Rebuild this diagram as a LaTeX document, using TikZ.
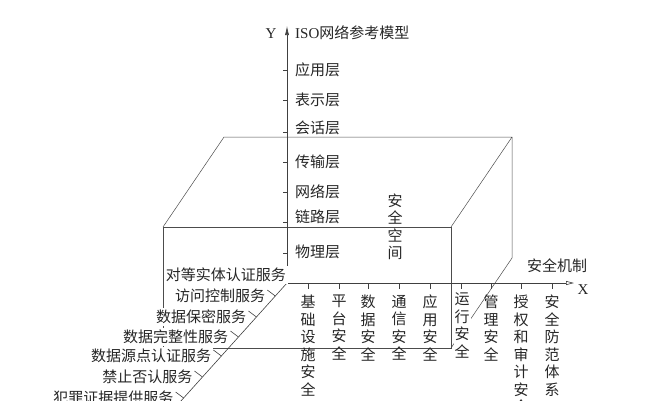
\documentclass[tikz,border=0pt]{standalone}
\usepackage{fontspec}
\setmainfont{Liberation Serif}
\newfontfamily\cjk{Noto Sans CJK SC}
\usetikzlibrary{arrows.meta,calc}
\tikzset{
  axisline/.style={draw=black!75, line width=0.6pt},
  edgeline/.style={draw=black!70, line width=0.5pt},
  txt/.style={text=black!85, inner sep=1pt, font=\cjk\fontsize{15}{17.5}\selectfont},
  ylabel/.style={txt, anchor=west},
  zlabel/.style={txt, anchor=east, fill=white, inner sep=2pt},
  xlabel/.style={txt, anchor=north, align=center},
}
\begin{document}
\begin{tikzpicture}[x=1pt,y=-1pt]
\useasboundingbox (0,0) rectangle (645,400);
% box (security space)
\coordinate (F1) at (163,227);
\coordinate (F2) at (451,227);
\coordinate (F3) at (451,348);
\coordinate (F4) at (163,348);
\coordinate (B1) at (224,137);
\coordinate (B2) at (512,137);
\coordinate (B3) at (512,258);
\draw[edgeline] (F1) -- (F2) -- (F3) -- (F4) -- cycle;
\draw[edgeline] (F1) -- (B1) -- (B2) -- (F2);
\draw[edgeline] (B2) -- (B3) -- (F3);
% axes
\coordinate (O) at (287,283);
\coordinate (Ytop) at (287,26);
\coordinate (Xend) at (574,283);
\coordinate (Zend) at (180,402);
\draw[axisline,-{Latex[length=9pt,width=4pt]}] (O) -- (Ytop);
\draw[axisline,-{Triangle[open,length=8pt,width=4pt]}] (O) -- (Xend);
\draw[axisline] (O) -- (Zend);
\node[txt, font=\fontsize{15}{15}\selectfont] (ynm) at (271,34) {Y};
\node[txt, font=\fontsize{15}{15}\selectfont] (xnm) at (583,290) {X};
\node[ylabel] (ytitle) at (294,33) {\fontsize{15}{15}\selectfont\rmfamily ISO\cjk 网络参考模型};
\node[txt] (xtitle) at (557,266) {安全机制};
% Y axis: ISO layers
\foreach \y/\t in {70/应用层,100/表示层,128/会话层,162/传输层,192/网络层,217/链路层,252/物理层}{
  \node[ylabel] (y\y) at (294,\y) {\t};
}
\foreach \y in {70,100,132,162,192,222,253}
  \draw[axisline] (283,\y) -- (287,\y);
\node[txt, align=center] (space) at (395,227) {安\\全\\空\\间};
% X axis: security mechanisms
\foreach \x in {308,339,368,399,430,461,491,521,552}
  \draw[axisline] (\x,283) -- (\x,289);
\foreach \x/\t in {308/{基\\础\\设\\施\\安\\全},339/{平\\台\\安\\全},368/{数\\据\\安\\全},
  399/{通\\信\\安\\全},430/{应\\用\\安\\全},491/{管\\理\\安\\全},
  521/{授\\权\\和\\审\\计\\安\\全},552/{安\\全\\防\\范\\体\\系}}{
  \node[xlabel] (x\x) at (\x,294) {\t};
}
\node[xlabel, fill=white] (x461) at (462,292) {运\\行\\安\\全};
% Z axis: security services
\node[zlabel] (z1) at (288,275) {对等实体认证服务};
\foreach \y/\t in {296/访问控制服务,317/数据保密服务,337/数据完整性服务,
  356/数据源点认证服务,377/禁止否认服务,398/犯罪证据提供服务}{
  \coordinate (t\y) at ($(O)!{(\y-283)/119}!(Zend)$);
  \draw[axisline] ($(t\y)+(-8,-6)$) -- (t\y);
  \node[zlabel] (z\y) at ($(t\y)+(-8,0)$) {\t};
}
\end{tikzpicture}
\end{document}
